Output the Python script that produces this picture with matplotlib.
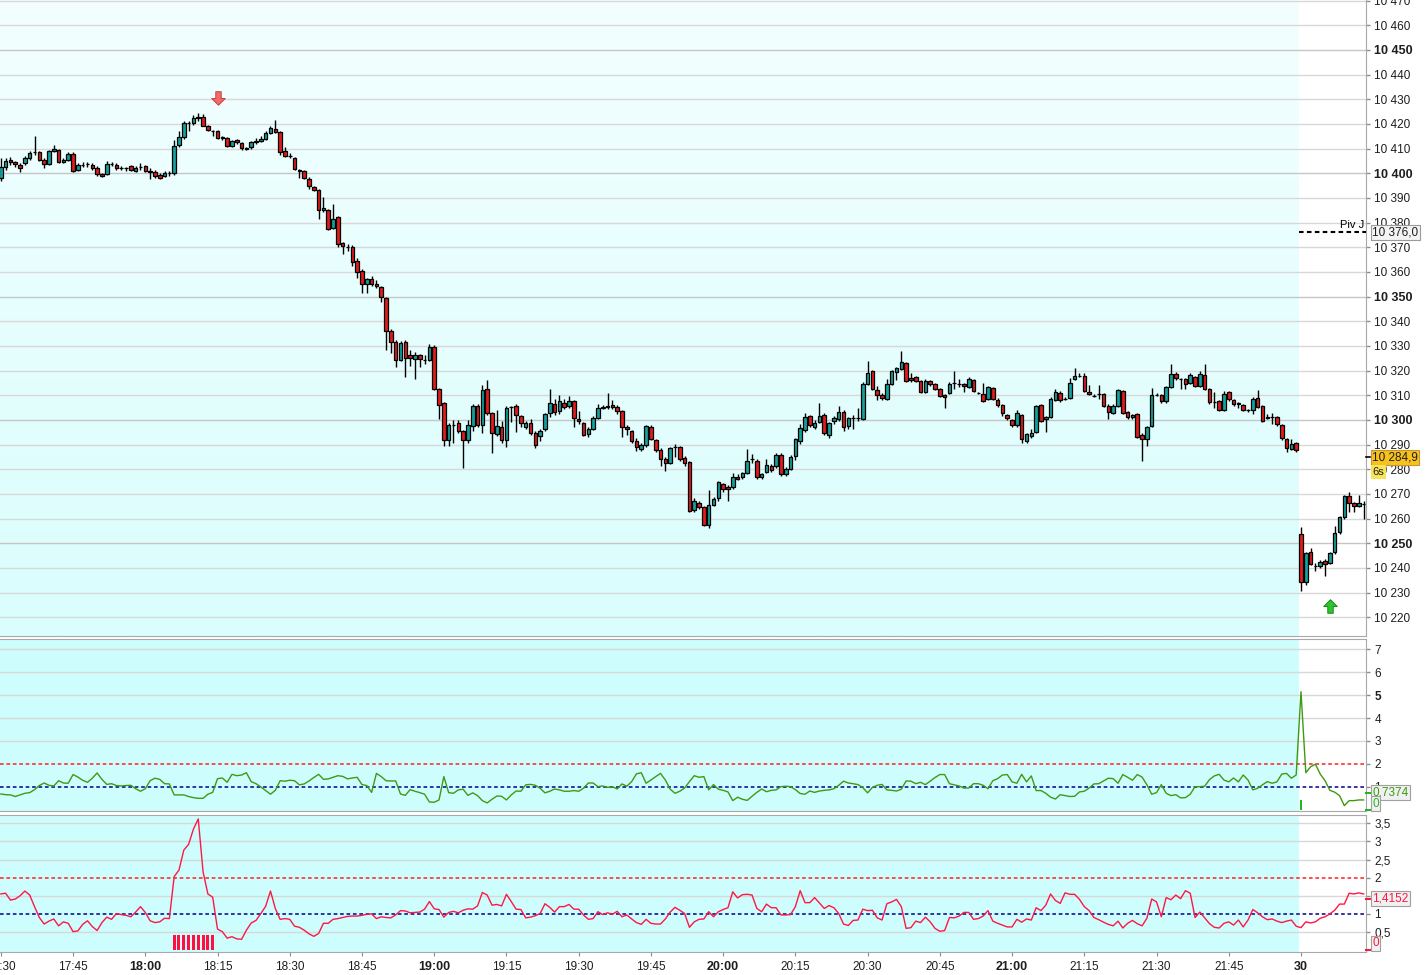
import numpy as np
import matplotlib.pyplot as plt
from matplotlib.path import Path
from matplotlib.colors import LinearSegmentedColormap

plt.rcParams['font.family'] = ['Liberation Sans', 'DejaVu Sans']

# one-minute bars, index 0 = 17:30 ; index 270.. = next session ("30")
opens = [
    10398.2, 10402.6, 10405.5, 10404.5, 10403.4, 10404, 10406, 10408.6, 10408.6, 10405.5,
    10403.6, 10409, 10409.6, 10404.5, 10405.5, 10408, 10401.5, 10403.2, 10403.6, 10403.5,
    10402.3, 10399.6, 10399.8, 10403.6, 10403.4, 10402, 10402, 10402.8, 10401, 10402.5,
    10403, 10401, 10400.7, 10399.3, 10399, 10400, 10400, 10411.5, 10414.7, 10420.4,
    10420.4, 10422.6, 10423, 10419.3, 10417.3, 10417.1, 10414.4, 10414.4, 10411.2, 10413.6,
    10412.4, 10410.2, 10410.6, 10412.8, 10413, 10414, 10416.5, 10418, 10416.9, 10409,
    10406.9, 10406.3, 10401.2, 10400.9, 10397.8, 10394.5, 10393.4, 10385, 10385.3, 10377.8,
    10382.3, 10371.8, 10370.2, 10370.2, 10364.5, 10360.5, 10355.3, 10357, 10355.3, 10353.7,
    10349.3, 10336.2, 10331.6, 10324.3, 10331.6, 10326.5, 10324.8, 10326.2, 10324.3, 10324.3,
    10329.7, 10312.4, 10306.7, 10292, 10298.1, 10298.7, 10295.4, 10291.9, 10297.6, 10305.7,
    10298.1, 10312.4, 10302.7, 10294.4, 10297, 10291.9, 10305.1, 10305.7, 10301.6, 10297.3,
    10298.7, 10294.9, 10293.5, 10296.2, 10302.7, 10306.5, 10303.7, 10307, 10305.5, 10307.8,
    10300.2, 10298.9, 10294.2, 10296.4, 10300.9, 10305, 10305.1, 10306, 10305.3, 10303.7,
    10297.3, 10295.6, 10291.3, 10288.3, 10290, 10297.3, 10291.9, 10288, 10284.3, 10282.7,
    10289, 10289.1, 10284.6, 10282.9, 10263.5, 10266.4, 10264.5, 10257.3, 10265.6, 10268.3,
    10274, 10272.9, 10272.7, 10277, 10277, 10278.6, 10284, 10283.5, 10277, 10279,
    10281.3, 10281.3, 10285.9, 10278, 10280.2, 10285.4, 10291.3, 10296, 10301.6, 10297.3,
    10299.2, 10302.1, 10294, 10299.4, 10300.2, 10303.4, 10297.5, 10300.7, 10300.7, 10300.4,
    10314.6, 10319.8, 10312.3, 10310.2, 10308.6, 10314.6, 10319.6, 10320.8, 10323.1, 10316.9,
    10317.5, 10315.8, 10311.5, 10315.8, 10314.5, 10312.6, 10310.2, 10311, 10314.9, 10314.6,
    10314.6, 10313.4, 10316.1, 10311, 10310.7, 10308.6, 10313, 10308.2, 10306.1, 10302.1,
    10300, 10298, 10302.1, 10291.3, 10293.4, 10295.1, 10306.1, 10300.2, 10301.2, 10308.2,
    10311, 10308.6, 10308.8, 10316.7, 10318, 10317.7, 10311.5, 10309.9, 10310.6, 10310.6,
    10305.8, 10302.9, 10305.8, 10311.8, 10303.1, 10301, 10302.3, 10294, 10292.1, 10297.5,
    10310.2, 10310.2, 10307.5, 10313.4, 10318.8, 10316.4, 10316.7, 10315, 10317.5, 10313.9,
    10318.4, 10312.6, 10307.3, 10307.5, 10304.2, 10311.3, 10308, 10306.3, 10306.1, 10304,
    10304.2, 10308.8, 10305.6, 10300.7, 10301.2, 10301.2, 10298, 10292.3, 10288.3, 10290.7,
    10253.6, 10234.4, 10246.3, 10240.6, 10240.6, 10242.8, 10242, 10246.3, 10254.4, 10260.6,
    10269, 10266.3, 10265.2, 10266,
]
highs = [
    10406, 10406, 10406.5, 10405, 10404, 10407, 10409, 10415, 10409, 10406,
    10409.5, 10411.5, 10410, 10406, 10408.5, 10408.5, 10404, 10404.5, 10404.5, 10404,
    10403, 10400, 10405, 10404.5, 10404, 10403, 10402.5, 10403.5, 10403, 10404,
    10403.5, 10402, 10401.5, 10400, 10401, 10401, 10413.5, 10417, 10421, 10421,
    10423.5, 10424.3, 10424, 10419.5, 10417.6, 10417.5, 10415, 10414.6, 10413.5, 10414,
    10412.6, 10410.6, 10413, 10414.5, 10415, 10417, 10419, 10421.5, 10417.2, 10410.5,
    10408.2, 10406.8, 10401.8, 10401.2, 10398.3, 10395, 10393.8, 10390.5, 10385.6, 10387.7,
    10382.6, 10372.3, 10371.3, 10371, 10365.5, 10361, 10357.5, 10358.5, 10356.8, 10354.2,
    10349.8, 10336.7, 10332.3, 10332, 10332.5, 10328.5, 10327.5, 10326.6, 10326.5, 10330.8,
    10330.2, 10312.8, 10307.2, 10298.6, 10300, 10300, 10296, 10300, 10306.5, 10306.5,
    10314, 10316.3, 10303.2, 10304, 10299.5, 10305.5, 10305.7, 10306.3, 10302.2, 10299.5,
    10300.5, 10295.5, 10296.3, 10303, 10312.5, 10308.5, 10310, 10308.5, 10309.5, 10308.2,
    10303.5, 10299.3, 10297, 10301.5, 10306.6, 10306, 10310.8, 10308.2, 10306, 10304.2,
    10297.8, 10296.1, 10292.5, 10290.5, 10298, 10297.8, 10292.4, 10288.5, 10284.8, 10289.2,
    10290.2, 10289.6, 10285.3, 10283.3, 10268.5, 10267, 10265, 10271.5, 10268.6, 10275.4,
    10274.6, 10273.5, 10278.5, 10278, 10279, 10288.4, 10286, 10284, 10278.6, 10284.2,
    10282, 10286.5, 10286.6, 10280.8, 10285.6, 10292.8, 10298.5, 10303, 10302.2, 10300,
    10306.8, 10303, 10299.2, 10301.5, 10305.5, 10303.9, 10301.2, 10302, 10305, 10315.2,
    10323.7, 10320.3, 10313.8, 10310.8, 10316.5, 10320.4, 10321.5, 10328, 10323.6, 10319,
    10318, 10316.3, 10316.4, 10316.3, 10315.1, 10313.1, 10310.7, 10315.2, 10319.8, 10316.5,
    10315.1, 10317.3, 10316.6, 10311.5, 10315, 10313.9, 10313.5, 10308.7, 10306.6, 10302.6,
    10300.5, 10304, 10302.6, 10294.8, 10296.3, 10306.2, 10306.6, 10301.7, 10309.1, 10312.4,
    10311.9, 10309.2, 10317, 10321.2, 10319, 10319, 10314, 10310.5, 10314, 10311.1,
    10306.3, 10306.3, 10312.6, 10312.3, 10303.6, 10302.6, 10302.8, 10294.5, 10297.7, 10313,
    10310.8, 10310.7, 10313.9, 10322.5, 10319.3, 10317, 10317.2, 10318.9, 10318, 10320,
    10322.5, 10313.1, 10311.5, 10308, 10311.7, 10311.8, 10308.5, 10307.4, 10306.6, 10304.5,
    10309.1, 10312, 10306.1, 10302.5, 10303, 10301.7, 10298.5, 10292.8, 10292.3, 10291.2,
    10256.5, 10246.5, 10248.2, 10242, 10243.3, 10243.6, 10246.5, 10256.8, 10261.1, 10269.5,
    10270.9, 10266.8, 10269.5, 10267,
]
lows = [
    10397, 10401.5, 10403.5, 10402.5, 10400.5, 10403.5, 10405.5, 10407.5, 10405, 10402,
    10403.5, 10408.5, 10404, 10404, 10405, 10400.5, 10401, 10402.5, 10402.5, 10401.5,
    10399, 10398.5, 10399.5, 10403, 10401.5, 10401.5, 10401, 10401, 10400.5, 10401.5,
    10400.5, 10397.8, 10398, 10397.5, 10398.5, 10399, 10399.5, 10410.5, 10414, 10417,
    10419.5, 10421, 10419, 10417, 10415, 10414, 10413.5, 10410.8, 10410.8, 10412,
    10409.6, 10409.5, 10410, 10412, 10412.5, 10413.5, 10416, 10416.5, 10407.6, 10406.5,
    10406.3, 10401.2, 10398, 10397.8, 10393.5, 10392.8, 10381.6, 10384.5, 10377, 10377.3,
    10370, 10367.2, 10368.5, 10362.5, 10357.5, 10351.5, 10351.5, 10354.5, 10353.5, 10347.8,
    10328.4, 10327, 10321.5, 10323.8, 10317.5, 10322, 10316.5, 10321.5, 10322.5, 10323.8,
    10312, 10300.5, 10289.5, 10289.5, 10290.5, 10294.8, 10280.4, 10290.5, 10295.5, 10297,
    10294.5, 10302, 10286.5, 10293.5, 10290.5, 10289.2, 10299, 10295, 10297, 10296.5,
    10294, 10288.8, 10291.5, 10295.5, 10301, 10302, 10302.5, 10304.5, 10305, 10297.2,
    10298.5, 10293.4, 10293, 10295.8, 10300.2, 10304.4, 10304.6, 10304.5, 10302.5, 10293,
    10294, 10290.6, 10287.5, 10287.3, 10289, 10291.8, 10287.2, 10281.5, 10279.2, 10282,
    10285, 10283.5, 10281.5, 10262.5, 10262.5, 10263.8, 10256.8, 10256.2, 10265, 10267,
    10270.8, 10267, 10271.8, 10275.5, 10276.2, 10278, 10282.5, 10276, 10276, 10278.5,
    10279, 10280.5, 10277.3, 10277.2, 10279.6, 10283.7, 10290.2, 10295.3, 10297, 10296.5,
    10298.7, 10294, 10292.5, 10298.5, 10299.6, 10295.6, 10296.5, 10296.5, 10299.6, 10299.8,
    10314, 10312, 10308, 10307.9, 10308, 10314, 10316, 10320.2, 10315.3, 10315.4,
    10315.2, 10310.8, 10311, 10313.9, 10312.1, 10309.3, 10305, 10310.4, 10312.5, 10313.3,
    10311.5, 10312.9, 10311.2, 10310.5, 10307.2, 10308.1, 10308, 10305.2, 10301.5, 10299.9,
    10297, 10297.3, 10290.5, 10290.7, 10292.8, 10294.6, 10299, 10295.3, 10300.7, 10307.7,
    10307.4, 10308, 10308.3, 10316.2, 10317.4, 10311.2, 10310.2, 10309.3, 10308.5, 10305.3,
    10300.3, 10302.4, 10305.3, 10302.4, 10300.5, 10300.5, 10292.6, 10283.3, 10289.5, 10297,
    10309.6, 10307, 10307, 10312.9, 10316.3, 10312.5, 10312.4, 10314.5, 10313.2, 10313.4,
    10312.1, 10306.5, 10305, 10303.7, 10303.7, 10307.6, 10305.5, 10305, 10303.5, 10303.4,
    10302.3, 10304.8, 10299, 10300.2, 10298.5, 10297.6, 10292, 10287, 10287.8, 10287,
    10230.5, 10233, 10241.2, 10238.6, 10240, 10236.6, 10241.5, 10245.8, 10253.9, 10260,
    10262.8, 10262.8, 10264.7, 10259.8,
]
closes = [
    10402.6, 10405, 10404.7, 10403.6, 10402.3, 10406.3, 10408.4, 10408.6, 10405.5, 10403.9,
    10409, 10410, 10404.5, 10405.5, 10407.7, 10401, 10403.2, 10403.5, 10403.6, 10402.3,
    10399.6, 10399, 10403.6, 10403.6, 10402, 10402, 10402, 10401.5, 10402.3, 10402.5,
    10401, 10400.4, 10399, 10398.2, 10400, 10400, 10411.2, 10414.7, 10420.4, 10420.4,
    10422.5, 10423, 10419.3, 10417.7, 10417.1, 10414.4, 10414.6, 10411.2, 10413, 10412.6,
    10410.4, 10409.9, 10412.7, 10413, 10414, 10416.5, 10418.4, 10416.9, 10408.8, 10407.2,
    10406.9, 10401.7, 10400.9, 10398.2, 10395, 10393.4, 10385, 10386.1, 10377.5, 10381.6,
    10371.5, 10370.7, 10370.2, 10364.2, 10359.9, 10355, 10357, 10355.3, 10354.3, 10349.7,
    10335.9, 10331.6, 10324.3, 10331, 10325.1, 10325.1, 10326.2, 10324.6, 10324.3, 10329.7,
    10312.4, 10306, 10291.9, 10298.1, 10298.1, 10295.4, 10291.9, 10298.1, 10305.7, 10298.1,
    10312.1, 10302.7, 10294.6, 10297.6, 10291.9, 10304.9, 10305.1, 10301.9, 10298.7, 10298.9,
    10294.6, 10289.7, 10295.5, 10302.4, 10306.7, 10303.2, 10307.6, 10305.4, 10307.8, 10300.9,
    10299.4, 10294, 10296.4, 10300.9, 10305, 10305.3, 10305.6, 10305.3, 10303.7, 10297.3,
    10296.5, 10291.3, 10288.9, 10290, 10297.5, 10292.4, 10287.8, 10284.3, 10282.7, 10288.6,
    10289, 10284.3, 10282.7, 10263.2, 10267.3, 10264.5, 10257.3, 10265.6, 10268.1, 10274.8,
    10271.8, 10272.1, 10277, 10276.2, 10278.3, 10283.5, 10284, 10277, 10278, 10281.9,
    10279.7, 10285.9, 10278, 10280.2, 10285.1, 10292.2, 10296.9, 10301.3, 10297.8, 10298.9,
    10301.6, 10294.6, 10298.6, 10300.9, 10303.2, 10297.2, 10300.7, 10300.7, 10300.7, 10314.6,
    10319.1, 10312.6, 10310.2, 10308.8, 10314.6, 10319.8, 10321, 10323.5, 10315.8, 10316,
    10315.8, 10311.3, 10315.8, 10314.5, 10312.6, 10309.9, 10309.4, 10314.6, 10314.9, 10314.6,
    10313.7, 10316.7, 10311.7, 10311, 10307.8, 10313.4, 10308.6, 10306.1, 10302.9, 10300.7,
    10297.8, 10302.9, 10292.1, 10294.3, 10294.8, 10305.7, 10299.6, 10301.2, 10308.6, 10311.5,
    10308, 10308.6, 10315, 10318, 10318, 10311.7, 10310.7, 10309.9, 10310.6, 10305.8,
    10303.4, 10305.8, 10312, 10302.9, 10301, 10302.1, 10293.1, 10292.1, 10297.2, 10310.2,
    10310.2, 10307.5, 10313.4, 10318.8, 10316.8, 10316.4, 10314.6, 10318.4, 10313.7, 10318.8,
    10312.6, 10307.3, 10307.3, 10304.2, 10310.7, 10308.3, 10306.4, 10306.9, 10304, 10304,
    10308.6, 10305.3, 10299.6, 10301.2, 10301.2, 10298.3, 10292.6, 10288.8, 10290.3, 10288,
    10234.1, 10246, 10241.7, 10240.6, 10242.2, 10241.7, 10246, 10254.1, 10260.6, 10269,
    10266.3, 10265.2, 10266.3, 10266,
]

# indicator 1 (green line), one value per bar
ind_green = [
    0.68, 0.65, 0.64, 0.57, 0.64, 0.71, 0.74, 0.87, 1.05, 1.16,
    1.06, 1.03, 1.26, 1.16, 1.15, 1.53, 1.42, 1.28, 1.19, 1.37,
    1.60, 1.32, 1.10, 1.13, 1.05, 1.03, 1.05, 1.06, 0.91, 0.80,
    0.91, 1.26, 1.37, 1.32, 1.13, 1.12, 0.64, 0.64, 0.64, 0.57,
    0.52, 0.49, 0.49, 0.67, 0.75, 1.35, 1.38, 1.19, 1.54, 1.48,
    1.51, 1.61, 1.22, 1.13, 0.99, 0.83, 0.67, 0.84, 1.26, 1.24,
    1.28, 1.26, 1.08, 1.12, 1.25, 1.40, 1.54, 1.32, 1.34, 1.41,
    1.48, 1.45, 1.34, 1.38, 1.41, 1.09, 1.05, 0.75, 1.58, 1.44,
    1.26, 1.25, 1.25, 0.68, 0.62, 0.87, 0.80, 0.74, 0.67, 0.33,
    0.32, 0.42, 1.44, 0.74, 0.71, 0.86, 0.89, 0.62, 0.73, 0.61,
    0.39, 0.29, 0.45, 0.59, 0.58, 0.42, 0.64, 0.81, 0.80, 1.08,
    1.10, 1.06, 0.93, 0.73, 0.80, 0.90, 0.86, 0.80, 0.80, 0.83,
    0.80, 0.93, 1.16, 1.16, 1.00, 1.03, 0.97, 1.00, 0.90, 1.12,
    1.02, 1.22, 1.56, 1.61, 1.15, 1.29, 1.44,
    1.58, 1.29, 0.89, 0.71, 0.80, 0.94, 1.22, 1.48, 1.41, 1.44,
    0.86, 1.09, 0.89, 0.84, 0.77, 0.39, 0.54, 0.45, 0.40, 0.58,
    0.75, 0.90, 0.78, 0.84, 0.86, 1.00, 1.02, 1.00, 0.87, 0.70,
    0.67, 0.81, 0.75, 0.81, 0.84, 0.86, 0.91, 1.06, 1.24, 1.16,
    1.13, 1.09, 0.96, 0.73, 0.97, 1.06, 1.10, 0.86, 0.84, 0.81,
    0.89, 1.25, 1.24, 1.13, 1.19, 1.09, 1.24, 1.40, 1.53, 1.53,
    1.13, 1.08, 1.03, 0.94, 0.94, 1.13, 1.13, 1.06, 0.91, 1.26,
    1.35, 1.51, 1.53, 1.21, 1.15, 1.54, 1.21, 1.47, 0.83, 0.83,
    0.71, 0.54, 0.46, 0.65, 0.61, 0.57, 0.58, 0.77, 0.80, 0.94,
    1.12, 1.13, 1.25, 1.37, 1.35, 1.15, 1.53, 1.41, 1.28, 1.53,
    1.42, 1.08, 0.67, 0.74, 1.09, 0.71, 0.61, 0.65, 0.51, 0.52,
    0.67, 1.00, 1.00, 1.02, 1.31, 1.47, 1.54, 1.29, 1.21, 1.38,
    1.21, 1.51, 1.29, 0.86, 0.93, 1.08, 1.22, 1.15, 1.21,
    1.55, 1.58, 1.37, 1.51,
    5.15, 1.61, 1.87, 1.98, 1.55, 1.26, 0.84, 0.76, 0.61, 0.17, 0.39, 0.39, 0.42, 0.42,
]
# indicator 2 (red line), one value per bar
ind_red = [
    1.55, 1.57, 1.38, 1.41, 1.50, 1.63, 1.52, 1.20, 0.90, 0.72,
    0.80, 0.86, 0.67, 0.78, 0.74, 0.51, 0.53, 0.71, 0.81, 0.65,
    0.54, 0.76, 0.91, 0.85, 1.01, 0.98, 0.96, 0.92, 1.05, 1.20,
    1.04, 0.81, 0.76, 0.78, 0.88, 0.87, 2.03, 2.21, 2.76, 2.92,
    3.34, 3.62, 2.16, 1.55, 1.46, 0.58, 0.51, 0.33, 0.37, 0.31,
    0.30, 0.55, 0.75, 0.82, 1.01, 1.21, 1.63, 1.15, 0.85, 0.87,
    0.85, 0.66, 0.63, 0.55, 0.45, 0.38, 0.46, 0.74, 0.74, 0.85,
    0.87, 0.90, 0.93, 0.94, 0.94, 0.96, 0.99, 1.00, 0.87, 0.92,
    0.90, 0.89, 0.97, 1.09, 1.08, 1.03, 1.04, 1.05, 1.13, 1.34,
    1.14, 1.12, 0.91, 1.04, 1.07, 1.03, 1.10, 1.14, 1.13, 1.22,
    1.59, 1.52, 1.24, 1.26, 1.22, 1.54, 1.34, 1.13, 1.12, 0.89,
    0.91, 0.95, 1.01, 1.28, 1.18, 1.05, 1.20, 1.20, 1.26, 1.13,
    1.13, 0.97, 0.85, 0.87, 1.06, 0.98, 1.03, 0.99, 1.07, 0.92,
    0.97, 0.86, 0.76, 0.71, 0.85, 0.74, 0.72,
    0.72, 0.86, 1.05, 1.18, 1.10, 1.01, 0.63, 0.78, 0.85, 0.86,
    1.06, 0.92, 1.06, 1.12, 1.17, 1.61, 1.44, 1.53, 1.54, 1.52,
    1.15, 1.06, 1.27, 1.17, 1.17, 0.97, 0.97, 0.98, 1.20, 1.64,
    1.31, 1.31, 1.45, 1.30, 1.15, 1.23, 1.17, 1.01, 0.72, 0.68,
    0.82, 0.83, 1.13, 1.09, 1.10, 0.89, 0.83, 1.28, 1.33, 1.40,
    1.20, 0.60, 0.62, 0.80, 0.76, 0.91, 0.78, 0.60, 0.52, 0.54,
    0.90, 0.89, 0.94, 1.04, 1.04, 0.85, 0.87, 0.94, 1.09, 0.80,
    0.74, 0.69, 0.64, 0.64, 0.85, 0.77, 0.86, 0.83, 1.17, 1.09,
    1.24, 1.55, 1.37, 1.29, 1.58, 1.54, 1.54, 1.40, 1.20, 1.09,
    0.90, 0.84, 0.77, 0.71, 0.67, 0.80, 0.61, 0.74, 0.82, 0.73,
    0.67, 0.88, 1.41, 1.33, 0.92, 1.45, 1.39, 1.52, 1.42, 1.64,
    1.57, 0.90, 1.05, 0.89, 0.73, 0.63, 0.61, 0.74, 0.78, 0.69,
    0.83, 0.64, 0.83, 1.12, 1.03, 0.92, 0.84, 0.86, 0.80,
    0.76, 0.80, 0.83, 0.66,
    0.62, 0.78, 0.75, 0.78, 0.88, 0.92, 1.00, 1.10, 1.27, 1.27, 1.57, 1.55, 1.58, 1.55,
]
red_signal_bars = [36, 37, 38, 39, 40, 41, 42, 43, 44]
red_signal_height = 0.41
green_signal_bars = [270]
green_signal_height = 0.42

time_ticks = [0, 15, 30, 45, 60, 75, 90, 105, 120, 135, 150, 165, 180, 195, 210, 225, 240, 255, 270]
time_labels = ['17:30', '17:45', '18:00', '18:15', '18:30', '18:45', '19:00', '19:15', '19:30',
               '19:45', '20:00', '20:15', '20:30', '20:45', '21:00', '21:15', '21:30', '21:45', '30']
bold_times = ['18:00', '19:00', '20:00', '21:00', '30']

pivot_level = 10376.0
last_price = 10284.9
sell_arrow = (45, 10430.5)
buy_arrow = (276, 10224.6)

# colours
TEAL = '#16a09c'
RED = '#e31b1b'
CYAN_TOP = '#f3ffff'
CYAN_BOT = '#dafdfd'
CYAN_IND = '#cefdfd'
GRID = '#d8d8d8'
GREEN_LINE = '#3f9a12'
RED_LINE = '#ff1744'
BORDER = '#a8a8a8'

session_end = 269.5
XMIN, XMAX = -0.17, 283.5

W, H = 1426, 975
fig = plt.figure(figsize=(W / 100, H / 100), dpi=100)
fig.patch.set_facecolor('white')


def add_panel(top, bottom):
    return fig.add_axes([0, 1 - bottom / H, 1366 / W, (bottom - top) / H])


ax1 = add_panel(0, 636)
ax2 = add_panel(639.3, 810.7)
ax3 = add_panel(815.3, 952.3)

y1 = (10212.4, 10470.25)
y2 = (-0.05, 7.44)
y3 = (-0.06, 3.72)

# ---- backgrounds
bg = LinearSegmentedColormap.from_list('bg', [CYAN_TOP, CYAN_BOT])
ax1.imshow(np.linspace(0, 1, 256).reshape(-1, 1), extent=(-2, session_end, y1[0], y1[1]),
           origin='upper', aspect='auto', cmap=bg, zorder=0, interpolation='bilinear')
for ax in (ax2, ax3):
    ax.axvspan(-2, session_end, color=CYAN_IND, lw=0, zorder=0)

# ---- grids
levels = np.arange(10220, 10471, 10)
for v in levels:
    ax1.axhline(v, color='#c6c6c6' if v % 50 == 0 else GRID, lw=1, zorder=1)
for v in [3, 4, 5, 6, 7]:
    ax2.axhline(v, color=GRID, lw=1, zorder=1)
for v in [0.5, 1.5, 2.5, 3, 3.5]:
    ax3.axhline(v, color=GRID, lw=1, zorder=1)
for ax in (ax2, ax3):
    ax.axhline(2, color='#ff2020', lw=1.1, ls=(0, (2.4, 1.8)), zorder=2)
    ax.axhline(1, color='#00008b', lw=1.1, ls=(0, (2.4, 1.8)), zorder=2)

# ---- candles
o = np.array(opens)
h = np.array(highs)
l = np.array(lows)
c = np.array(closes)
x = np.arange(len(o))
ax1.vlines(x, l, h, color='black', lw=1, zorder=3)
body_lo = np.minimum(o, c)
body_h = np.abs(c - o)
cols = np.where(c >= o, TEAL, RED)
ax1.bar(x, body_h, bottom=body_lo, width=0.74, color=cols, edgecolor='black',
        linewidth=0.9, zorder=4)

# arrows
down = Path([(-0.2, 0.5), (0.2, 0.5), (0.2, 0.0), (0.5, 0.0), (0.0, -0.5),
             (-0.5, 0.0), (-0.2, 0.0), (-0.2, 0.5)], closed=True)
up = Path([(-0.2, -0.5), (0.2, -0.5), (0.2, 0.0), (0.5, 0.0), (0.0, 0.5),
           (-0.5, 0.0), (-0.2, 0.0), (-0.2, -0.5)], closed=True)
ax1.scatter([sell_arrow[0]], [sell_arrow[1]], marker=down, s=95, c='#f26b6b',
            edgecolors='#c94040', linewidths=0.7, zorder=6)
ax1.scatter([buy_arrow[0]], [buy_arrow[1]], marker=up, s=95, c='#2fc42f',
            edgecolors='#178a17', linewidths=0.7, zorder=6)

# pivot line
ax1.hlines(pivot_level, session_end, XMAX, colors='black', lw=1.5,
           linestyles=(0, (2.2, 1.6)), zorder=5)
ax1.text(XMAX - 0.3, pivot_level + 1.0, 'Piv J', ha='right', va='bottom', fontsize=8, zorder=6)

# ---- indicators
ax2.plot(np.arange(len(ind_green)), ind_green, color=GREEN_LINE, lw=1.0, zorder=3)
ax2.bar(green_signal_bars, [green_signal_height] * len(green_signal_bars), width=0.6,
        color='#22b622', zorder=3)
ax3.plot(np.arange(len(ind_red)), ind_red, color=RED_LINE, lw=1.0, zorder=3)
ax3.bar(red_signal_bars, [red_signal_height] * len(red_signal_bars), width=0.62,
        color='#ff1040', zorder=3)

# ---- axes styling
for ax, yl in ((ax1, y1), (ax2, y2), (ax3, y3)):
    ax.set_xlim(XMIN, XMAX)
    ax.set_ylim(*yl)
    ax.set_facecolor('white')
    ax.yaxis.tick_right()
    ax.tick_params(axis='y', direction='out', length=3, width=1, color='#8c8c8c',
                   labelsize=8.5, pad=3, labelcolor='#1e1e1e')
    ax.tick_params(axis='x', bottom=False, labelbottom=False)
    ax.spines['left'].set_visible(False)
    for side in ('right', 'bottom', 'top'):
        ax.spines[side].set_color(BORDER)
ax1.spines['top'].set_visible(False)

ax1.set_yticks(levels)
ax1.set_yticklabels([f'{v // 1000} {v % 1000:03d}' for v in levels])
for lab, v in zip(ax1.get_yticklabels(), levels):
    if v % 50 == 0:
        lab.set_fontweight('bold')
        lab.set_fontsize(9)

t2 = [1, 2, 3, 4, 5, 6, 7]
ax2.set_yticks(t2)
ax2.set_yticklabels([str(v) for v in t2])
ax2.get_yticklabels()[4].set_fontweight('bold')

t3 = [0.5, 1, 1.5, 2, 2.5, 3, 3.5]
ax3.set_yticks(t3)
ax3.set_yticklabels([f'{v:g}'.replace('.', ',') for v in t3])

ax3.set_xticks(time_ticks)
ax3.set_xticklabels(time_labels)
ax3.tick_params(axis='x', bottom=True, labelbottom=True, length=3, color='#8c8c8c',
                labelsize=8.5, pad=3, labelcolor='#1e1e1e')
for lab in ax3.get_xticklabels():
    if lab.get_text() in bold_times:
        lab.set_fontweight('bold')
        lab.set_fontsize(9)


# ---- value boxes on the price scale
def tag(ax, y, s, fc, ec, tc, fs=8.5, dx=0.0045):
    ax.text(1 + dx, y, s, transform=ax.get_yaxis_transform(), ha='left', va='center',
            fontsize=fs, color=tc, clip_on=False, zorder=10,
            bbox=dict(boxstyle='square,pad=0.12', fc=fc, ec=ec, lw=0.8))


tag(ax1, pivot_level, '10 376,0', '#f4f4f4', '#9a9a9a', '#1e1e1e')
tag(ax1, last_price, '10 284,9', '#f7c21e', '#c8962a', '#1e1e1e')
tag(ax1, last_price - 5.9, '6s', '#f8e45a', '#f8e45a', '#1e1e1e', fs=8)
ax1.plot([1.0, 1.003], [last_price, last_price], transform=ax1.get_yaxis_transform(),
         color='black', lw=1.2, clip_on=False, zorder=9)

tag(ax2, 0.7374, '0,7374', '#f0f0f0', '#a0a0a0', GREEN_LINE)
tag(ax2, 0.26, '0', '#f0f0f0', '#a0a0a0', '#22b622')
for v in (0.7374, 0.0):
    ax2.plot([1.0, 1.003], [v, v], transform=ax2.get_yaxis_transform(),
             color='#22b622', lw=1.5, clip_on=False, zorder=9)

tag(ax3, 1.4152, '1,4152', '#f0f0f0', '#a0a0a0', RED_LINE)
tag(ax3, 0.19, '0', '#f0f0f0', '#a0a0a0', RED_LINE)
for v in (1.4152, 0.0):
    ax3.plot([1.0, 1.003], [v, v], transform=ax3.get_yaxis_transform(),
             color=RED_LINE, lw=1.5, clip_on=False, zorder=9)

fig.savefig('out.png', dpi=100, facecolor='white')
